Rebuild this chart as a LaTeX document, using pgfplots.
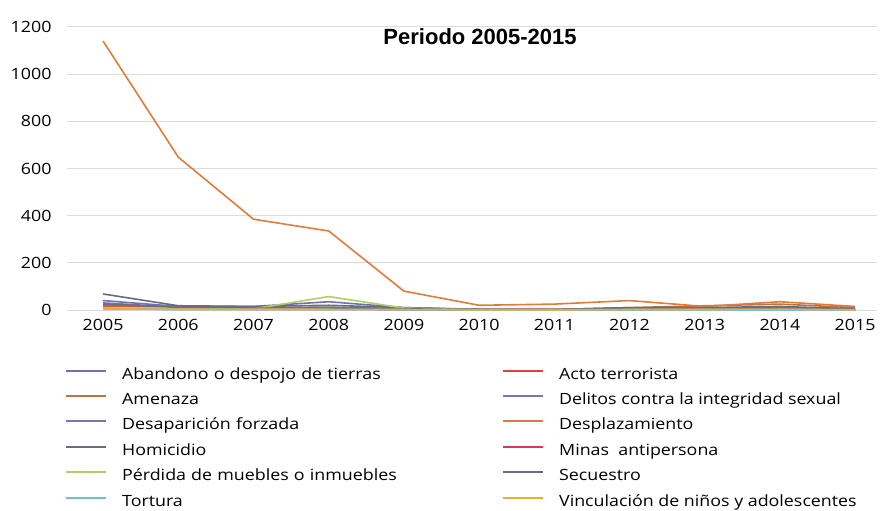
\documentclass[border=0pt]{standalone}
\usepackage{fontspec}
\setmainfont{Open Sans}[FakeStretch=1.15]
\newfontfamily\titlefont{Liberation Sans}
\usepackage{pgfplots}
\pgfplotsset{compat=1.18}

\definecolor{cAband}{HTML}{7072B0}
\definecolor{cActo}{HTML}{D8443C}
\definecolor{cAmen}{HTML}{B9743F}
\definecolor{cDeli}{HTML}{7378BA}
\definecolor{cDesa}{HTML}{7779A0}
\definecolor{cDesp}{HTML}{DF7C3C}
\definecolor{cHomi}{HTML}{676B85}
\definecolor{cMina}{HTML}{D63A55}
\definecolor{cPerd}{HTML}{B2CF66}
\definecolor{cSecu}{HTML}{6A6C80}
\definecolor{cTort}{HTML}{6CC5CC}
\definecolor{cVinc}{HTML}{F2A93B}
\definecolor{gridc}{HTML}{DCDCDC}

\begin{document}
\begin{tikzpicture}
\begin{axis}[
    name=main,
    scale only axis,
    width=810pt, height=283pt,
    xmin=2004.52, xmax=2015.29,
    ymin=0, ymax=1200,
    xtick={2005,...,2015},
    ytick={0,200,...,1200},
    /pgf/number format/1000 sep={},
    xticklabel style={yshift=-6pt},
    yticklabel style={xshift=-12pt},
    /pgf/number format/assume math mode=true,
    tick label style={font=\fontsize{15.5}{18}\selectfont},
    major tick length=0pt,
    axis line style={draw=none},
    ymajorgrids=true,
    grid style={gridc, line width=1pt},
    title={\titlefont\bfseries\fontsize{22}{26}\selectfont Periodo 2005-2015},
    title style={at={(0.51,0.943)}, anchor=center},
    every axis plot/.append style={line width=1.6pt, mark=none},
    legend columns=2,
    legend cell align=left,
    legend style={
        at={(-0.0025,-0.203)}, anchor=north west,
        draw=none, fill=none, inner sep=0pt,
        font=\fontsize{15.5}{18}\selectfont,
        nodes={inner sep=0pt, text height=11.5pt, text depth=3.5pt},
        row sep=10.4pt,
        /tikz/every odd column/.append style={column sep=15pt},
        /tikz/column 2/.style={text width=380pt, align=left},
    },
    legend image code/.code={\draw[#1, line width=2pt] (0pt,4.5pt) -- (40pt,4.5pt);},
]
\addplot[cAband] coordinates {(2005,40) (2006,15) (2007,15) (2008,35) (2009,10) (2010,2) (2011,2) (2012,8) (2013,10) (2014,10) (2015,5)};
\addlegendentry{Abandono o despojo de tierras}
\addplot[cActo] coordinates {(2005,15) (2006,10) (2007,5) (2008,5) (2009,3) (2010,1) (2011,1) (2012,2) (2013,2) (2014,2) (2015,1)};
\addlegendentry{Acto terrorista}
\addplot[cAmen] coordinates {(2005,20) (2006,15) (2007,10) (2008,10) (2009,5) (2010,2) (2011,2) (2012,10) (2013,18) (2014,25) (2015,10)};
\addlegendentry{Amenaza}
\addplot[cDeli] coordinates {(2005,5) (2006,3) (2007,3) (2008,3) (2009,2) (2010,1) (2011,1) (2012,1) (2013,1) (2014,1) (2015,1)};
\addlegendentry{Delitos contra la integridad sexual}
\addplot[cDesa] coordinates {(2005,30) (2006,12) (2007,10) (2008,12) (2009,5) (2010,2) (2011,1) (2012,3) (2013,3) (2014,3) (2015,2)};
\addlegendentry{Desaparición forzada}
\addplot[cDesp] coordinates {(2005,1140) (2006,648) (2007,385) (2008,335) (2009,80) (2010,20) (2011,25) (2012,40) (2013,15) (2014,35) (2015,15)};
\addlegendentry{Desplazamiento}
\addplot[cHomi] coordinates {(2005,68) (2006,18) (2007,15) (2008,20) (2009,10) (2010,3) (2011,2) (2012,10) (2013,10) (2014,15) (2015,5)};
\addlegendentry{Homicidio}
\addplot[cMina] coordinates {(2005,8) (2006,5) (2007,3) (2008,3) (2009,2) (2010,1) (2011,1) (2012,1) (2013,1) (2014,1) (2015,0)};
\addlegendentry{Minas\ \ antipersona}
\addplot[cPerd] coordinates {(2005,10) (2006,8) (2007,5) (2008,57) (2009,8) (2010,1) (2011,1) (2012,2) (2013,2) (2014,2) (2015,1)};
\addlegendentry{Pérdida de muebles o inmuebles}
\addplot[cSecu] coordinates {(2005,25) (2006,12) (2007,8) (2008,8) (2009,5) (2010,1) (2011,1) (2012,2) (2013,2) (2014,3) (2015,1)};
\addlegendentry{Secuestro}
\addplot[cTort] coordinates {(2005,3) (2006,2) (2007,2) (2008,2) (2009,1) (2010,0) (2011,0) (2012,0) (2013,0) (2014,0) (2015,0)};
\addlegendentry{Tortura}
\addplot[cVinc] coordinates {(2005,5) (2006,3) (2007,3) (2008,3) (2009,2) (2010,1) (2011,1) (2012,2) (2013,2) (2014,3) (2015,1)};
\addlegendentry{Vinculación de niños y adolescentes}
\end{axis}
\pgfresetboundingbox
\path[use as bounding box] ([xshift=-67pt,yshift=-201pt]main.south west) rectangle ([xshift=6pt,yshift=27pt]main.north east);
\end{tikzpicture}
\end{document}
